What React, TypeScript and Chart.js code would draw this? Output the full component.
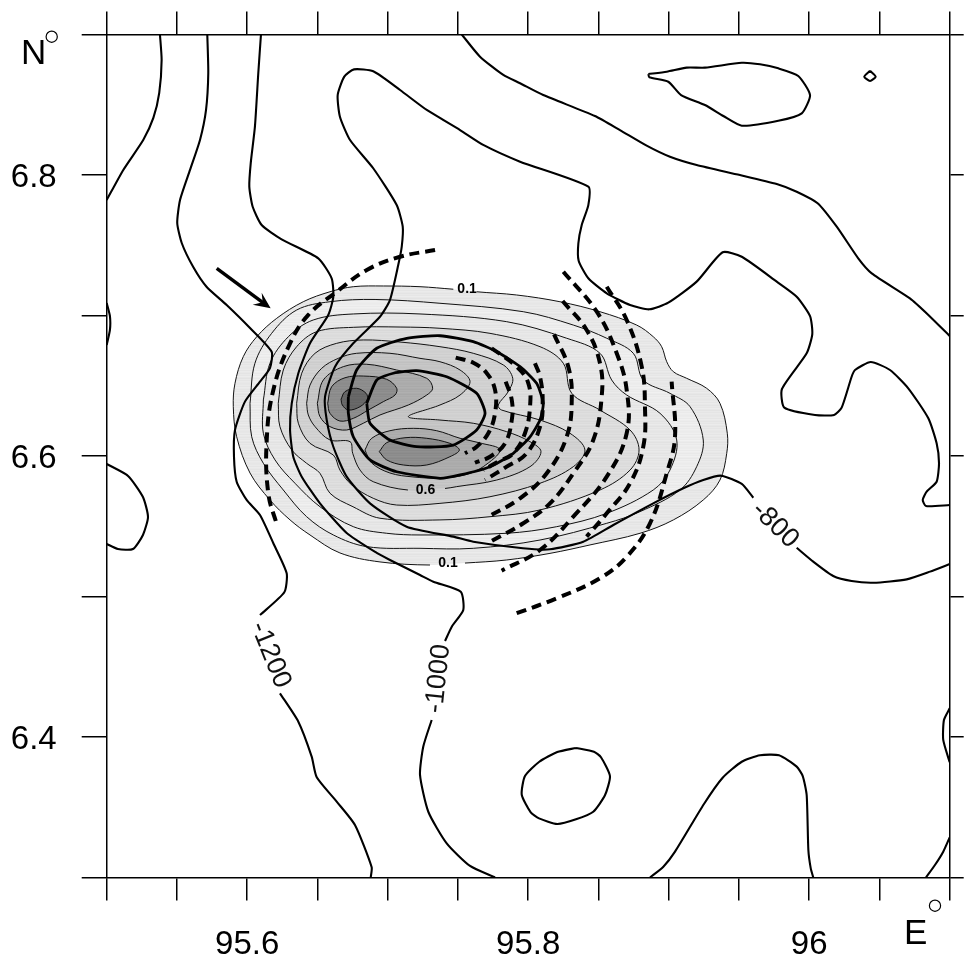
import React, { useEffect, useRef } from "react";
import { Chart, registerables } from "chart.js";
Chart.register(...registerables);

const xTickLabels = ["95.6", "95.8", "96"];
const yTickLabels = ["6.8", "6.6", "6.4"];

// bathymetry contours [lon, lat]
const depthA = [[95.5379,6.9],[95.5391,6.8819],[95.5374,6.8584],[95.5332,6.8406],[95.526,6.8249],[95.5118,6.8036],[95.5,6.7822]];
const depthB1 = [[95.5716,6.9],[95.5723,6.8726],[95.5707,6.8463],[95.5664,6.8249],[95.5593,6.8036],[95.5522,6.7822],[95.5502,6.7658],[95.5534,6.7516],[95.5616,6.7345],[95.5712,6.7203],[95.5854,6.7075],[95.602,6.6911],[95.6174,6.6742],[95.6162,6.6626],[95.6091,6.6529],[95.5984,6.6387],[95.5913,6.6185],[95.5906,6.5995],[95.5925,6.5817],[95.5996,6.5687],[95.6091,6.558],[95.6186,6.5379],[95.6281,6.5165],[95.6264,6.503],[95.6091,6.4868]];
const depthB2 = [[95.6233,6.4311],[95.6364,6.4109],[95.6459,6.386],[95.6495,6.3713],[95.6637,6.354],[95.6767,6.3374],[95.6886,6.3073],[95.6879,6.3]];
const depthC1 = [[95.6098,6.9],[95.6079,6.8726],[95.6055,6.8344],[95.6025,6.8083],[95.6015,6.7917],[95.6039,6.7774],[95.6103,6.7644],[95.6245,6.7542],[95.6506,6.7407],[95.6601,6.7265],[95.6613,6.7134],[95.6577,6.7004],[95.6447,6.6802],[95.6364,6.6589],[95.6317,6.6375],[95.6305,6.6185],[95.6328,6.5995],[95.6388,6.5853],[95.6518,6.5663],[95.6708,6.5452],[95.6922,6.531],[95.7016,6.526],[95.723,6.5153],[95.7325,6.5105],[95.752,6.5034],[95.7538,6.4904],[95.7456,6.4785],[95.7408,6.4683]];
const depthC2 = [[95.7313,6.4121],[95.7253,6.3931],[95.723,6.373],[95.7289,6.3468],[95.742,6.3243],[95.7586,6.3082],[95.7764,6.3]];
const depthD1 = [[95.9602,6.5703],[95.952,6.5801],[95.9372,6.586],[95.9246,6.5829],[95.9104,6.577],[95.889,6.5663],[95.8606,6.5509],[95.8392,6.539],[95.8155,6.5336],[95.7963,6.5343],[95.7609,6.539],[95.7467,6.5426],[95.7135,6.5497],[95.6874,6.5663],[95.6708,6.5853],[95.6613,6.6066],[95.6566,6.6256],[95.6554,6.6422],[95.6625,6.6636],[95.6755,6.6802],[95.6945,6.6991],[95.7016,6.711],[95.7075,6.7359],[95.71,6.749],[95.7107,6.7632],[95.7064,6.7786],[95.6897,6.8048],[95.6732,6.8249],[95.666,6.8415],[95.6644,6.8569],[95.6691,6.87],[95.676,6.8752],[95.6897,6.8738],[95.7088,6.8605],[95.7278,6.8463],[95.7515,6.832],[95.768,6.8214],[95.7942,6.8095],[95.8428,6.7917],[95.8428,6.7786],[95.8381,6.7644],[95.8357,6.7514],[95.8359,6.739],[95.8428,6.7265],[95.8559,6.7158],[95.8725,6.7075],[95.8862,6.7044],[95.8997,6.7091],[95.9199,6.7241],[95.9384,6.745],[95.952,6.7418],[95.9769,6.7241],[95.9911,6.7134],[96.0006,6.6996],[96.0022,6.6868],[95.9982,6.6731],[95.9806,6.6477],[95.9823,6.6344],[96.0041,6.6292],[96.0177,6.6292],[96.0231,6.6344],[96.0302,6.6564],[96.0326,6.6612],[96.0438,6.6669],[96.0575,6.6612],[96.0705,6.6482],[96.0848,6.6268],[96.0907,6.609],[96.0924,6.5948],[96.0907,6.5817],[96.0836,6.5746],[96.0808,6.5687],[96.0831,6.5644],[96.1,6.5651]];
const depthD2 = [[95.9911,6.5347],[96.0029,6.5248],[96.0171,6.5146],[96.0302,6.511],[96.0456,6.5098],[96.0694,6.5122],[96.086,6.5177],[96.1,6.5231]];
const depthE = [[95.7527,6.9],[95.7657,6.8842],[95.7823,6.8712],[95.7942,6.8653],[95.8107,6.8569],[95.8475,6.842],[95.8653,6.832],[95.8843,6.8209],[95.9009,6.813],[95.9199,6.8071],[95.9507,6.8],[95.9769,6.7936],[95.9911,6.7881],[96.006,6.7799],[96.0196,6.7632],[96.0349,6.7407],[96.0445,6.73],[96.0717,6.7122],[96.0848,6.7004],[96.1,6.6854]];
const depthTeardrop = [[95.8855,6.8719],[95.8986,6.8735],[95.9128,6.8764],[95.9258,6.8764],[95.952,6.8799],[95.965,6.8788],[95.978,6.8759],[95.9922,6.8705],[96.0006,6.8569],[95.9947,6.8439],[95.978,6.8386],[95.952,6.8351],[95.9389,6.842],[95.9258,6.8498],[95.9088,6.8569],[95.8997,6.8664],[95.8862,6.8695],[95.8855,6.8719]];
const depthDiamond = [[96.0433,6.8742],[96.0473,6.87],[96.0433,6.8669],[96.0392,6.87],[96.0433,6.8742]];
const depthEdgeTop = [[95.5,6.7089],[95.5023,6.6996],[95.5023,6.6897],[95.5,6.679]];
const depthEdgeMid = [[95.5,6.5943],[95.5152,6.5858],[95.5258,6.5708],[95.5294,6.5566],[95.5258,6.5438],[95.5187,6.5338],[95.508,6.5338],[95.5,6.5374]];
const depthLoopLow = [[95.834,6.3922],[95.8468,6.3895],[95.8518,6.3856],[95.8582,6.3722],[95.8547,6.3587],[95.8463,6.3468],[95.834,6.3414],[95.8207,6.3381],[95.8077,6.3421],[95.8018,6.3464],[95.7954,6.3589],[95.7977,6.3722],[95.8079,6.3824],[95.8207,6.3893],[95.834,6.3922]];
const depthBump = [[95.8867,6.3],[95.8962,6.3077],[95.9045,6.3184],[95.9251,6.3523],[95.9384,6.371],[95.952,6.3824],[95.965,6.387],[95.9785,6.387],[95.9911,6.3789],[95.9954,6.3722],[95.9982,6.3587],[95.9994,6.3196],[96.0011,6.3065],[96.0029,6.3]];
const depthEdgeLow = [[96.1,6.4204],[96.0959,6.4121],[96.0954,6.3979],[96.1,6.382]];
const depthCorner = [[96.0831,6.3],[96.0895,6.3089],[96.0954,6.3184],[96.1,6.3286]];
const depthLoopOuter = [[95.672,6.6422],[95.6779,6.6612],[95.6922,6.6767],[95.7135,6.6838],[95.7372,6.6856],[95.7609,6.6814],[95.7776,6.6742],[95.7942,6.6636],[95.806,6.6517],[95.8107,6.6375],[95.8084,6.6256],[95.8013,6.6137],[95.7894,6.6019],[95.7728,6.5924],[95.7515,6.5865],[95.7372,6.5841],[95.7064,6.5888],[95.6874,6.5972],[95.6755,6.6137],[95.672,6.6304],[95.672,6.6422]];
const depthLoopInner = [[95.6851,6.6375],[95.6922,6.6541],[95.704,6.6589],[95.7206,6.6607],[95.742,6.6564],[95.7633,6.6446],[95.7693,6.6304],[95.7633,6.6185],[95.7467,6.6078],[95.7206,6.6066],[95.7016,6.6114],[95.6874,6.6233],[95.6851,6.6375]];

// shaded field contours
const level1 = [[95.7467,6.7187],[95.723,6.7205],[95.6969,6.721],[95.6755,6.7205],[95.6589,6.7169],[95.6399,6.7098],[95.621,6.698],[95.6068,6.6849],[95.5972,6.6707],[95.5913,6.6517],[95.5901,6.6351],[95.5925,6.6137],[95.602,6.5879],[95.6162,6.5687],[95.6305,6.5545],[95.6447,6.5438],[95.666,6.531],[95.6945,6.5246],[95.7301,6.5224],[95.755,6.5238],[95.7847,6.526],[95.8155,6.5307],[95.844,6.5367],[95.8796,6.545],[95.9033,6.5545],[95.9246,6.5687],[95.9365,6.5829],[95.9413,6.6019],[95.9417,6.6162],[95.9365,6.6375],[95.927,6.6482],[95.9128,6.6553],[95.9033,6.66],[95.8986,6.6671],[95.895,6.6778],[95.889,6.6849],[95.8772,6.6932],[95.8511,6.7027],[95.8226,6.7098],[95.7918,6.7146],[95.7633,6.7169],[95.7467,6.7187]];
const level2 = [[95.602,6.6375],[95.6055,6.666],[95.6174,6.6873],[95.6352,6.7039],[95.6589,6.7098],[95.691,6.7114],[95.7372,6.7087],[95.7965,6.7027],[95.8321,6.6932],[95.8559,6.6838],[95.8748,6.6731],[95.8819,6.6541],[95.9009,6.6446],[95.9152,6.6351],[95.9246,6.6114],[95.9199,6.5924],[95.908,6.5758],[95.8796,6.5604],[95.8559,6.5521],[95.8084,6.5402],[95.7609,6.5343],[95.723,6.5343],[95.6851,6.5355],[95.6613,6.5438],[95.6423,6.5568],[95.6257,6.5758],[95.6115,6.5948],[95.6032,6.6137],[95.602,6.6375]];
const level3 = [[95.6115,6.6399],[95.6162,6.666],[95.6293,6.6849],[95.647,6.6968],[95.6755,6.7011],[95.723,6.7011],[95.7847,6.6956],[95.8274,6.6838],[95.8511,6.6731],[95.8594,6.6541],[95.8701,6.6434],[95.8938,6.6304],[95.9057,6.6114],[95.9009,6.59],[95.889,6.5758],[95.8559,6.5592],[95.8203,6.5497],[95.7847,6.545],[95.723,6.5438],[95.6993,6.545],[95.6755,6.5497],[95.6518,6.5639],[95.634,6.5806],[95.6198,6.5972],[95.6115,6.6162],[95.6115,6.6399]];
const level4 = [[95.6221,6.6375],[95.6257,6.6612],[95.6352,6.6778],[95.6495,6.6885],[95.6755,6.6916],[95.7088,6.6918],[95.7372,6.6909],[95.7728,6.6873],[95.8084,6.6778],[95.825,6.666],[95.831,6.6446],[95.8511,6.6327],[95.8725,6.6185],[95.8789,6.6043],[95.8725,6.59],[95.8511,6.5758],[95.8084,6.5616],[95.7728,6.5568],[95.7372,6.5545],[95.6945,6.5557],[95.6753,6.5639],[95.6589,6.5735],[95.6518,6.5877],[95.6423,6.5948],[95.6317,6.6043],[95.6233,6.6209],[95.6221,6.6375]];
const level5 = [[95.6352,6.6375],[95.6388,6.6589],[95.6483,6.6731],[95.6637,6.6802],[95.6826,6.6826],[95.7088,6.6811],[95.7372,6.6778],[95.7609,6.6731],[95.7823,6.6648],[95.789,6.6553],[95.7858,6.6458],[95.7787,6.6363],[95.7811,6.6327],[95.8084,6.6256],[95.8297,6.6162],[95.8404,6.6043],[95.8321,6.5924],[95.8084,6.5806],[95.7728,6.571],[95.7372,6.5663],[95.7064,6.5651],[95.6897,6.5699],[95.6744,6.5794],[95.666,6.59],[95.6613,6.6007],[95.6447,6.609],[95.6364,6.6233],[95.6352,6.6375]];
const level6 = [[95.6423,6.6375],[95.6447,6.6505],[95.653,6.6624],[95.6648,6.6695],[95.6779,6.6731],[95.7016,6.6731],[95.723,6.6695],[95.7372,6.6671],[95.7515,6.6612],[95.7586,6.6529],[95.7515,6.6434],[95.7372,6.6363],[95.7147,6.628],[95.7372,6.6256],[95.7609,6.6233],[95.7847,6.6173],[95.8013,6.6102],[95.8091,6.6031],[95.8013,6.5924],[95.7776,6.5829],[95.7491,6.5782],[95.7408,6.5769],[95.7144,6.5758],[95.6897,6.5817],[95.6803,6.59],[95.6751,6.6019],[95.6732,6.6102],[95.6589,6.6114],[95.6483,6.6209],[95.6435,6.6292],[95.6423,6.6375]];
const level7Upper = [[95.6499,6.6375],[95.6542,6.6541],[95.6684,6.6636],[95.6851,6.6653],[95.7064,6.6612],[95.7278,6.6553],[95.732,6.6482],[95.7278,6.6434],[95.7147,6.6363],[95.6945,6.6292],[95.6826,6.6233],[95.6708,6.6185],[95.6589,6.6209],[95.6518,6.628],[95.6499,6.6375]];
const level7Lower = [[95.6838,6.6043],[95.6886,6.6126],[95.7016,6.618],[95.7182,6.6197],[95.7349,6.618],[95.7515,6.6126],[95.7657,6.6093],[95.7799,6.6043],[95.768,6.5924],[95.755,6.5865],[95.7372,6.5843],[95.718,6.5851],[95.7016,6.5879],[95.6886,6.595],[95.6838,6.6043]];
const level8Upper = [[95.6573,6.6375],[95.6601,6.6493],[95.6696,6.6557],[95.6826,6.6569],[95.6993,6.6546],[95.7064,6.6482],[95.7052,6.6434],[95.6969,6.6387],[95.6862,6.6327],[95.6755,6.6268],[95.666,6.6249],[95.6589,6.6304],[95.6573,6.6375]];
const level8Lower = [[95.694,6.6031],[95.6993,6.6095],[95.7123,6.613],[95.7278,6.6126],[95.7443,6.609],[95.751,6.6043],[95.7443,6.5995],[95.7278,6.5936],[95.7111,6.5936],[95.6993,6.5972],[95.694,6.6031]];
const level9 = [[95.6668,6.6404],[95.6696,6.6458],[95.6779,6.6482],[95.6846,6.6446],[95.6855,6.6404],[95.6803,6.6351],[95.672,6.6327],[95.6677,6.6363],[95.6668,6.6404]];

// dashed fronts
const frontLeft = [[95.7337,6.7466],[95.7088,6.7418],[95.6851,6.7324],[95.6637,6.7169],[95.6435,6.7004],[95.6305,6.6802],[95.6186,6.647],[95.6139,6.6114],[95.615,6.5735],[95.6214,6.5502]];
const frontOuter = [[95.7918,6.4881],[95.8203,6.4987],[95.8511,6.513],[95.8701,6.5283],[95.8867,6.5521],[95.8986,6.5877],[95.9045,6.6137],[95.9021,6.6529]];
const frontA = [[95.8559,6.7205],[95.8701,6.6968],[95.8808,6.6636],[95.8831,6.6351],[95.8819,6.6066],[95.8725,6.5806],[95.8559,6.5592],[95.8416,6.5426]];
const frontB = [[95.825,6.7312],[95.8488,6.7027],[95.863,6.6731],[95.8701,6.647],[95.8701,6.6162],[95.8559,6.5853],[95.8321,6.5568],[95.8084,6.5331],[95.7811,6.5184]];
const frontC = [[95.8245,6.7103],[95.8416,6.6897],[95.8511,6.666],[95.8523,6.6422],[95.8463,6.6114],[95.8321,6.5877],[95.8155,6.5663],[95.7965,6.5521],[95.774,6.5395]];
const frontD = [[95.8184,6.6866],[95.8285,6.6636],[95.831,6.6399],[95.8274,6.6137],[95.8132,6.5877],[95.7942,6.5699],[95.7716,6.5568]];
const frontE = [[95.8048,6.666],[95.8084,6.6564],[95.8103,6.6399],[95.8084,6.6209],[95.7989,6.6019],[95.7847,6.5924],[95.7693,6.5829]];
const frontF = [[95.774,6.6767],[95.7918,6.6636],[95.8001,6.6517],[95.8013,6.6351],[95.7977,6.6162],[95.7894,6.6019],[95.7787,6.596],[95.768,6.59]];
const frontG = [[95.784,6.6529],[95.7883,6.6399],[95.7883,6.6256],[95.7835,6.609],[95.7728,6.5995],[95.7621,6.5952]];
const frontH = [[95.7484,6.67],[95.7609,6.6664],[95.7705,6.6589],[95.7764,6.647],[95.7764,6.6304],[95.7716,6.6162],[95.7633,6.6066],[95.755,6.6019]];

const fieldLabels: [string, number, number][] = [["0.1",95.7565,6.7185],["0.1",95.7429,6.5235],["0.6",95.7269,6.5758]];
const depthLabels: [string, number, number, number][] = [["-1200",95.6165,6.4584,68],["-1000",95.736,6.4415,-84],["-800",95.9757,6.5509,44]];
const arrowStart = [95.5783, 6.7336];
const arrowTip = [95.6167, 6.7051];

const FONT = '"Liberation Sans", Arial, sans-serif';
const pts = (a: number[][]) => a.map(([x, y]) => ({ x, y }));

const inLabel = (p: any, q: any) => {
  const mx = (p.x + q.x) / 2, my = (p.y + q.y) / 2;
  return fieldLabels.some(([, x, y]) => Math.abs(mx - x) < 0.016 && Math.abs(my - y) < 0.006);
};

// faint horizontal banding of the shaded field
const bandOffsets = [0, 3, -2, 4, 1, -3, 2, -1, 5, 0, -4, 2, -2, 3, 1, -1];
const streak = (gray: number) => {
  const c = document.createElement("canvas");
  c.width = 4;
  c.height = bandOffsets.length;
  const g = c.getContext("2d")!;
  bandOffsets.forEach((o, i) => {
    const v = gray + o;
    g.fillStyle = `rgb(${v},${v},${v})`;
    g.fillRect(0, i, 4, 1);
  });
  return g.createPattern(c, "repeat");
};

const fieldDs = (a: number[][], gray: number) => [
  { data: pts(a), showLine: true, fill: "shape", backgroundColor: streak(gray), borderColor: "rgba(0,0,0,0)", borderWidth: 0, pointRadius: 0, tension: 0.35 },
  {
    data: pts(a), showLine: true, fill: false, borderColor: "#111", borderWidth: 1, pointRadius: 0, tension: 0.35,
    segment: { borderColor: (c: any) => (inLabel(c.p0.parsed, c.p1.parsed) ? "rgba(0,0,0,0)" : undefined) },
  },
];
const lineDs = (a: number[][], w: number) => ({
  data: pts(a), showLine: true, fill: false, borderColor: "#000", borderWidth: w, pointRadius: 0, tension: 0.2,
});
const dashDs = (a: number[][]) => ({
  data: pts(a), showLine: true, fill: false, borderColor: "#000", borderWidth: 4, borderDash: [10, 6], pointRadius: 0, tension: 0.4,
});

const overlay = {
  id: "overlay",
  afterDraw(chart: any) {
    const { ctx, scales } = chart;
    const X = (v: number) => scales.x.getPixelForValue(v);
    const Y = (v: number) => scales.y.getPixelForValue(v);
    ctx.save();
    ctx.textAlign = "center";
    ctx.textBaseline = "middle";
    ctx.fillStyle = "#000";
    ctx.font = `bold 14px ${FONT}`;
    fieldLabels.forEach(([t, x, y]) => ctx.fillText(t, X(x), Y(y)));
    ctx.font = `27px ${FONT}`;
    ctx.fillStyle = "#111";
    depthLabels.forEach(([t, x, y, a]) => {
      ctx.save();
      ctx.translate(X(x), Y(y));
      ctx.rotate((a * Math.PI) / 180);
      ctx.fillText(t, 0, 0);
      ctx.restore();
    });
    // wind arrow
    const tx = X(arrowTip[0]), ty = Y(arrowTip[1]);
    ctx.strokeStyle = "#000";
    ctx.lineWidth = 3.4;
    ctx.beginPath();
    ctx.moveTo(X(arrowStart[0]), Y(arrowStart[1]));
    ctx.lineTo(tx - 4, ty - 3);
    ctx.stroke();
    ctx.fillStyle = "#000";
    ctx.beginPath();
    ctx.moveTo(tx, ty);
    ctx.lineTo(tx - 9, ty - 15.5);
    ctx.lineTo(tx - 8, ty - 6);
    ctx.lineTo(tx - 18, ty - 3.5);
    ctx.closePath();
    ctx.fill();
    // axis units
    ctx.fillStyle = "#000";
    ctx.font = `35px ${FONT}`;
    ctx.textAlign = "left";
    ctx.textBaseline = "alphabetic";
    ctx.fillText("N", 21, 63.5);
    ctx.fillText("E", 904, 944);
    ctx.lineWidth = 1.2;
    [[51.7, 36.7], [935, 905.7]].forEach(([cx, cy]) => {
      ctx.beginPath();
      ctx.arc(cx, cy, 5.6, 0, Math.PI * 2);
      ctx.stroke();
    });
    ctx.restore();
  },
};

const axisStyle = (tickLength: number) => ({
  grid: { drawOnChartArea: false, drawTicks: true, tickLength, color: "#000", tickColor: "#000", lineWidth: 1.5 },
  border: { display: true, color: "#000", width: 1.5 },
});
const pin = (s: any, size: Record<string, number>) => {
  Object.assign(s, size, { paddingLeft: 0, paddingRight: 0, paddingTop: 0, paddingBottom: 0 });
};

export default function App() {
  const ref = useRef<HTMLCanvasElement | null>(null);
  useEffect(() => {
    if (!ref.current) return;
    const list: any[] = [
      ...fieldDs(level1, 231),
      ...fieldDs(level2, 236),
      ...fieldDs(level3, 230),
      ...fieldDs(level4, 220),
      ...fieldDs(level5, 208),
      ...fieldDs(level6, 196),
      ...fieldDs(level7Upper, 171),
      ...fieldDs(level7Lower, 171),
      ...fieldDs(level8Upper, 140),
      ...fieldDs(level8Lower, 140),
      ...fieldDs(level9, 102),
      ...[depthA, depthB1, depthB2, depthC1, depthC2, depthD1, depthD2, depthE, depthTeardrop, depthDiamond,
        depthEdgeTop, depthEdgeMid, depthLoopLow, depthBump, depthEdgeLow, depthCorner].map((a) => lineDs(a, 2.1)),
      lineDs(depthLoopOuter, 2.8),
      lineDs(depthLoopInner, 2.8),
      ...[frontLeft, frontOuter, frontA, frontB, frontC, frontD, frontE, frontF, frontG, frontH].map(dashDs),
    ];
    const datasets = list.map((d, i) => ({ ...d, order: list.length - i }));
    const xBase = { type: "linear", min: 95.5, max: 96.1 };
    const yBase = { type: "linear", min: 6.3, max: 6.9 };
    const chart = new Chart(ref.current, {
      type: "scatter",
      data: { datasets },
      plugins: [overlay],
      options: {
        animation: false,
        responsive: false,
        devicePixelRatio: 1,
        layout: { padding: 0 },
        plugins: { legend: { display: false }, tooltip: { enabled: false }, title: { display: false } },
        scales: {
          x: {
            ...xBase, position: "bottom", ...axisStyle(23),
            afterFit: (s: any) => pin(s, { height: 78.5 }),
            ticks: {
              stepSize: 0.05, autoSkip: false, maxRotation: 0, color: "#000", padding: 25,
              font: { family: FONT, size: 33 },
              callback: (v: number) => xTickLabels.find((t) => Math.abs(Number(t) - v) < 1e-6) ?? "",
            },
          },
          x2: {
            ...xBase, position: "top", ...axisStyle(23),
            afterFit: (s: any) => pin(s, { height: 34.5 }),
            ticks: { stepSize: 0.05, display: false },
          },
          y: {
            ...yBase, position: "left", ...axisStyle(25),
            afterFit: (s: any) => pin(s, { width: 106.7 }),
            ticks: {
              stepSize: 0.1, autoSkip: false, color: "#000", padding: 25, labelOffset: 3,
              font: { family: FONT, size: 33 },
              callback: (v: number) => yTickLabels.find((t) => Math.abs(Number(t) - v) < 1e-6) ?? "",
            },
          },
          y2: {
            ...yBase, position: "right", ...axisStyle(14),
            afterFit: (s: any) => pin(s, { width: 14.3 }),
            ticks: { stepSize: 0.1, display: false },
          },
        },
      } as any,
    } as any);
    return () => chart.destroy();
  }, []);
  return (
    <div style={{ position: "absolute", left: 0, top: 0, width: 964, height: 956 }}>
      <canvas ref={ref} width={964} height={956} style={{ display: "block" }} />
    </div>
  );
}
